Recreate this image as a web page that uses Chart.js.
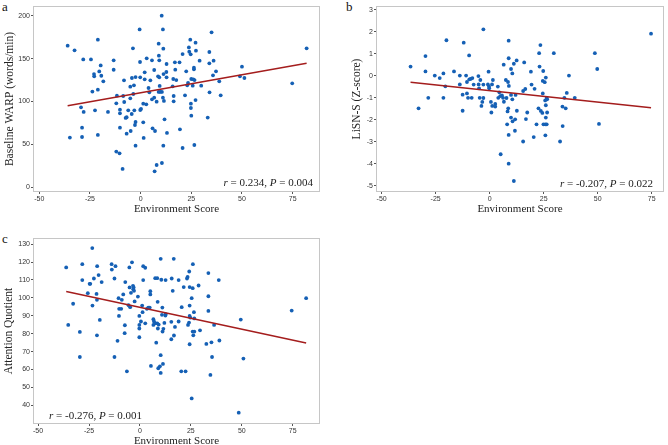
<!DOCTYPE html>
<html>
<head>
<meta charset="utf-8">
<script src="https://cdn.jsdelivr.net/npm/chart.js@4.4.1/dist/chart.umd.min.js"></script>
<style>
  html, body { margin: 0; padding: 0; background: #fff; }
  body { width: 668px; height: 445px; overflow: hidden; position: relative; }
  .panel { position: absolute; }
  .tag { position: absolute; font-family: "Liberation Serif", serif; font-size: 13px; line-height: 13px; color: #111; }
</style>
</head>
<body>
<div class="tag" style="left:2px; top:0px;">a</div>
<div class="tag" style="left:346px; top:0px;">b</div>
<div class="tag" style="left:2px; top:232px;">c</div>

<div class="panel" style="left:0; top:0; width:330px; height:222px;"><canvas id="chartA"></canvas></div>
<div class="panel" style="left:340px; top:0; width:328px; height:222px;"><canvas id="chartB"></canvas></div>
<div class="panel" style="left:0; top:225px; width:330px; height:229px;"><canvas id="chartC"></canvas></div>

<script>
// Shared x axis ticks
const xTicks = [-50, -25, 0, 25, 50, 75];

// Panel a - Baseline WARP vs Environment Score
const envA = [
  -36.0, -34.9, -32.6, -28.9, -28.9, -28.3, -28.1, -29.4, -24.5, -23.8,
  -23.0, -22.9, -22.5, -21.1, -21.1, -21.1, -20.4, -19.7, -19.4, -18.4,
  -16.1, -13.3, -13.3, -12.0, -11.7, -12.0, -10.4, -10.2, -10.2, -10.2,
  -8.9, -8.6, -8.2, -8.1, -7.4, -6.9, -6.9, -6.1, -5.1, -5.1,
  -4.9, -4.4, -4.3, -3.8, -3.6, -3.3, -3.1, -2.8, -2.5, -2.5,
  -2.5, -0.5, -0.3, -0.2, -0.2, 0.2, 1.3, 1.3, 1.5, 2.0,
  2.0, 3.0, 2.8, 3.9, 4.3, 4.8, 5.6, 5.6, 5.9, 6.7,
  6.7, 7.1, 6.9, 7.9, 7.9, 8.6, 8.9, 8.9, 9.0, 9.2,
  9.4, 9.2, 9.7, 10.4, 10.5, 10.5, 11.0, 11.2, 11.0, 11.2,
  11.3, 11.5, 11.8, 12.7, 12.8, 12.8, 13.0, 15.8, 16.1, 16.3,
  16.3, 16.9, 17.1, 17.6, 19.2, 19.4, 20.7, 20.7, 21.9, 22.5,
  23.0, 23.4, 23.8, 24.0, 24.5, 24.7, 25.0, 24.8, 24.8, 25.0,
  25.7, 26.0, 26.3, 26.3, 26.5, 26.6, 27.1, 27.3, 27.1, 29.1,
  29.9, 33.1, 33.9, 33.9, 34.0, 35.0, 35.7, 36.0, 37.2, 38.8,
  39.5, 50.0, 49.0, 51.2, 74.8, 81.9
];
const warp = [
  165, 57.9, 159.6, 69.5, 58.6, 149, 87.8, 93.2, 149, 111.5,
  132, 129.3, 89.7, 172, 113.8, 61, 135, 142, 130, 123.5,
  87.8, 148, 137, 41.6, 106.8, 97.9, 39.6, 90.5, 86.2, 69.5,
  21.4, 106.4, 124.7, 99.4, 80.8, 81.6, 62.5, 89.7, 117.3, 103.7,
  65.6, 85.4, 127.4, 162, 108.7, 118.8, 89.7, 72.6, 76.1, 48.5,
  128.5, 184, 146, 128.2, 90.1, 91.3, 97.5, 75.7, 57.5, 125.8,
  134, 150.3, 96.7, 115.7, 110.7, 124.7, 148, 102.5, 68.7, 136.7,
  104.5, 65.6, 18.6, 99.8, 26, 129.3, 111.1, 167.4, 153.4, 148,
  118.1, 128.2, 111.1, 200, 111.1, 28.3, 184, 161.6, 104.5, 48.5,
  132, 100.6, 79.2, 134.4, 143.7, 128.2, 63.3, 117.7, 126.2, 106.4,
  100.2, 145.6, 137.1, 125, 145.6, 67.6, 155.3, 45.8, 107.2, 135.1,
  118.8, 121.6, 163, 158, 172, 155, 126.2, 97.5, 92.4, 83.5,
  118.4, 125.8, 139.4, 137.5, 49.3, 125, 168.5, 159.2, 101.7, 147.6,
  118.4, 81.2, 157.7, 144.5, 110.7, 180.6, 130.5, 147.6, 135.1, 123.5,
  107.2, 140.6, 129.3, 127.4, 121.2, 162
];
const warpTicks = [0, 50, 100, 150, 200];
const fitA = { intercept: 110.2, slope: 0.419, r: '0.234', p: '0.004' };

// Panel b - LiSN-S vs Environment Score
const envB = [
  -36.6, -32.9, -29.7, -29.7, -28.4, -25.4, -23.1, -21.4, -21.4, -20.5,
  -20.0, -16.5, -13.8, -13.8, -12.5, -12.5, -12.0, -10.9, -10.5, -10.5,
  -10.0, -9.5, -9.4, -8.8, -8.3, -8.0, -7.4, -5.2, -5.1, -4.9,
  -4.6, -4.3, -3.8, -3.4, -2.9, -2.9, -2.9, -0.8, -0.5, -0.3,
  -0.2, 0.6, 0.8, 1.1, 1.2, 1.5, 2.6, 2.6, 3.8, 4.0,
  4.5, 4.9, 5.1, 5.7, 6.2, 6.5, 6.6, 7.5, 7.8, 8.1,
  8.3, 8.5, 8.6, 8.8, 8.8, 8.8, 8.8, 8.9, 9.9, 9.9,
  9.9, 10.5, 10.5, 10.6, 11.2, 11.2, 11.7, 11.8, 12.0, 12.5,
  12.6, 15.5, 15.5, 16.0, 16.5, 16.8, 17.4, 19.1, 19.4, 20.4,
  20.8, 21.7, 22.6, 22.9, 23.1, 23.5, 23.7, 24.4, 24.6, 24.6,
  24.8, 24.9, 25.5, 25.7, 25.8, 25.8, 26.0, 26.0, 26.0, 26.4,
  26.4, 26.6, 26.6, 29.7, 32.6, 33.7, 33.8, 34.6, 35.2, 35.7,
  36.7, 39.4, 48.7, 49.8, 50.6, 74.7
];
const lisn = [
  0.42, -1.48, 0.90, 0.20, -1.00, 0.01, -0.10, 0.11, -1.00, -0.48,
  1.62, 0.20, 0.01, -0.39, -0.86, -1.59, 1.51, 0.01, -0.28, -0.80,
  -1.00, 0.93, -0.16, -0.14, -1.00, -0.10, -0.40, -0.01, -0.39, -0.57,
  -1.00, -0.19, -1.37, -1.19, 2.12, -1.01, -0.40, -0.39, 0.19, -0.49,
  -0.57, -1.19, -1.67, -0.39, -1.37, -0.19, -1.28, -1.40, -0.49, -1.00,
  -0.75, -0.92, -3.57, -0.89, -1.00, 0.51, -1.18, -0.19, -1.01, -2.21,
  -1.62, -0.28, -1.48, 1.60, 0.80, -4.00, -2.69, -0.46, 0.31, -1.90,
  -0.87, 0.11, -1.07, -2.07, 0.55, -4.79, -2.50, -1.98, -0.87, 0.70,
  -1.59, -2.99, -0.69, 0.61, -0.60, -1.97, -1.67, 0.19, -0.40, -2.79,
  -0.59, -2.21, -1.48, 1.03, 0.42, 1.40, -1.60, -1.69, -0.23, -0.80,
  0.22, -2.21, -0.29, -1.12, -2.21, -2.71, -0.08, -1.34, -1.90, -1.00,
  -2.21, -1.07, -1.67, 1.03, -2.99, -1.40, -2.29, -1.00, -1.48, -0.78,
  0.01, -1.00, 1.03, 0.31, -2.19, 1.92
];
const lisnTicks = [-5, -4, -3, -2, -1, 0, 1, 2, 3];
const fitB = { intercept: -0.671, slope: -0.01042, r: '-0.207', p: '0.022' };

// Panel c - Attention Quotient vs Environment Score
const envC = [
  -36.2, -35.2, -32.8, -29.5, -29.5, -28.3, -28.3, -25.6, -24.7, -24.4,
  -23.4, -23.3, -22.6, -21.3, -21.1, -21.1, -21.0, -20.3, -19.7, -18.8,
  -13.9, -13.8, -12.5, -12.5, -12.0, -11.0, -10.5, -10.3, -10.2, -9.2,
  -8.9, -8.2, -7.5, -7.4, -7.2, -6.4, -5.6, -5.2, -5.1, -4.8,
  -4.4, -3.9, -3.4, -3.3, -3.1, -2.9, -2.6, -1.0, -0.3, -0.3,
  -0.3, -0.3, 0.5, 1.1, 1.3, 1.6, 1.6, 2.6, 2.6, 3.4,
  4.1, 4.8, 5.1, 5.1, 5.4, 6.6, 6.6, 6.9, 7.5, 7.7,
  8.0, 8.5, 8.5, 8.7, 8.8, 9.0, 9.2, 9.8, 10.2, 10.2,
  10.2, 10.5, 10.8, 11.0, 11.1, 11.3, 11.5, 12.0, 12.5, 12.6,
  12.6, 15.4, 15.4, 15.6, 16.1, 16.6, 16.7, 17.2, 19.0, 19.0,
  20.3, 20.5, 21.5, 22.4, 23.1, 23.4, 23.6, 24.1, 24.2, 24.4,
  24.4, 24.4, 24.4, 24.7, 25.4, 25.4, 25.9, 25.9, 26.0, 26.2,
  26.5, 26.7, 26.7, 28.8, 29.5, 32.6, 33.6, 33.6, 33.6, 34.6,
  35.1, 35.4, 36.4, 38.7, 39.0, 48.5, 49.5, 50.8, 74.5, 81.6
];
const attention = [
  117.0, 84.9, 96.7, 81.0, 67.0, 118.8, 109.9, 102.6, 107.8, 107.8,
  127.8, 95.7, 110.8, 102.2, 98.9, 79.1, 117.7, 112.7, 87.7, 108.8,
  118.8, 115.8, 110.8, 67.0, 117.7, 76.0, 99.8, 89.9, 93.9, 93.9,
  98.9, 101.9, 80.3, 84.7, 108.8, 59.0, 95.9, 117.0, 105.8, 94.8,
  102.8, 119.8, 106.7, 104.8, 105.8, 103.9, 98.0, 100.7, 89.9, 84.9,
  82.9, 78.0, 86.8, 95.7, 92.0, 109.9, 117.7, 116.8, 85.8, 93.9,
  94.6, 94.6, 103.7, 101.9, 62.0, 88.1, 84.9, 86.8, 111.0, 85.8,
  75.0, 111.0, 85.8, 97.8, 82.9, 60.7, 85.1, 61.8, 121.8, 68.0,
  58.1, 110.1, 90.5, 94.6, 81.2, 63.1, 82.7, 86.0, 90.1, 109.9,
  90.9, 86.6, 76.9, 110.8, 103.9, 121.8, 79.0, 83.8, 109.9, 86.8,
  59.0, 94.8, 106.0, 59.0, 110.8, 111.7, 84.9, 86.2, 114.7, 95.7,
  106.0, 89.9, 74.1, 89.0, 43.9, 99.8, 105.4, 81.2, 118.8, 79.1,
  92.0, 81.2, 88.5, 106.9, 81.9, 74.3, 113.8, 100.9, 92.7, 57.0,
  75.2, 67.0, 84.9, 109.9, 76.2, 35.9, 87.9, 66.1, 92.9, 99.8
];
const attentionTicks = [40, 50, 60, 70, 80, 90, 100, 110, 120, 130];
const fitC = { intercept: 94.68, slope: -0.2436, r: '-0.276', p: '0.001' };

const DOT = '#1560b5';
const FIT_LINE = '#a41d1d';
const TICK_FONT = { family: 'Liberation Sans', size: 7 };
const X_TITLE_FONT = { family: 'Liberation Serif', size: 11 };
const Y_TITLE_FONT = { family: 'Liberation Serif', size: 11.5 };

// draws the grey frame and the r / P text
const framePlugin = {
  id: 'frame',
  afterDraw(chart, args, opts) {
    const { ctx, chartArea: a } = chart;
    ctx.save();
    ctx.strokeStyle = '#c6c6c6';
    ctx.lineWidth = 1;
    ctx.strokeRect(a.left + 0.5, a.top + 0.5, a.right - a.left - 1, a.bottom - a.top - 1);

    const parts = [
      ['r', 'italic'], [' = ' + opts.r + ', ', 'normal'],
      ['P', 'italic'], [' = ' + opts.p, 'normal']
    ];
    const fontFor = style => style + ' 11px "Liberation Serif"';
    let total = 0;
    parts.forEach(([t, s]) => { ctx.font = fontFor(s); total += ctx.measureText(t).width; });
    let x = opts.align === 'left' ? a.left + opts.dx : a.right - opts.dx - total;
    const y = a.bottom - opts.dy;
    ctx.fillStyle = '#222';
    ctx.textBaseline = 'alphabetic';
    parts.forEach(([t, s]) => {
      ctx.font = fontFor(s);
      ctx.fillText(t, x, y);
      x += ctx.measureText(t).width;
    });
    ctx.restore();
  }
};

function makePanel(id, xs, ys, fit, cfg) {
  const points = xs.map((x, i) => ({ x: x, y: ys[i] }));
  const xMin = Math.min(...xs), xMax = Math.max(...xs);
  const fitLine = [
    { x: xMin, y: fit.intercept + fit.slope * xMin },
    { x: xMax, y: fit.intercept + fit.slope * xMax }
  ];

  return new Chart(document.getElementById(id), {
    type: 'scatter',
    data: {
      datasets: [
        {
          type: 'line',
          data: fitLine,
          borderColor: FIT_LINE,
          borderWidth: 1.5,
          pointRadius: 0,
          fill: false,
          order: 0
        },
        {
          data: points,
          backgroundColor: DOT,
          borderWidth: 0,
          pointRadius: 1.9,
          order: 1
        }
      ]
    },
    options: {
      responsive: true,
      maintainAspectRatio: false,
      animation: false,
      layout: { padding: cfg.padding },
      plugins: {
        legend: { display: false },
        tooltip: { enabled: false },
        frame: { r: fit.r, p: fit.p, align: cfg.statAlign, dx: cfg.statDx, dy: cfg.statDy }
      },
      scales: {
        x: {
          type: 'linear',
          min: cfg.xMin,
          max: cfg.xMax,
          afterBuildTicks: s => { s.ticks = xTicks.map(v => ({ value: v })); },
          afterFit: s => { s.height = 30; },
          grid: { drawOnChartArea: false, tickLength: 2, tickColor: '#555' },
          border: { display: false },
          ticks: { font: TICK_FONT, color: '#333', padding: 1, maxRotation: 0 },
          title: {
            display: true,
            text: 'Environment Score',
            font: X_TITLE_FONT,
            color: '#222',
            padding: { top: 0, bottom: 6 }
          }
        },
        y: {
          type: 'linear',
          min: cfg.yMin,
          max: cfg.yMax,
          afterBuildTicks: s => { s.ticks = cfg.yTicks.map(v => ({ value: v })); },
          afterFit: s => { s.width = cfg.yWidth; },
          grid: { drawOnChartArea: false, tickLength: 2, tickColor: '#555' },
          border: { display: false },
          ticks: { font: TICK_FONT, color: '#333', padding: 1 },
          title: {
            display: true,
            text: cfg.yTitle,
            font: Y_TITLE_FONT,
            color: '#222',
            padding: { top: cfg.yTitlePad, bottom: 0 }
          }
        }
      }
    },
    plugins: [framePlugin]
  });
}

makePanel('chartA', envA, warp, fitA, {
  padding: { left: 0, right: 10, top: 6, bottom: 0 },
  xMin: -53.1, xMax: 88.5, yMin: -5.5, yMax: 211.3,
  yTicks: warpTicks, yWidth: 33, yTitle: 'Baseline WARP (words/min)', yTitlePad: 3,
  statAlign: 'right', statDx: 7, statDy: 6
});

makePanel('chartB', envB, lisn, fitB, {
  padding: { left: 0, right: 3, top: 6, bottom: 0 },
  xMin: -52.6, xMax: 80.7, yMin: -5.29, yMax: 3.18,
  yTicks: lisnTicks, yWidth: 36, yTitle: 'LiSN-S (Z-score)', yTitlePad: 10,
  statAlign: 'right', statDx: 11, statDy: 5
});

makePanel('chartC', envC, attention, fitC, {
  padding: { left: 0, right: 10, top: 13, bottom: 0 },
  xMin: -52.5, xMax: 88.4, yMin: 29.6, yMax: 133.4,
  yTicks: attentionTicks, yWidth: 33, yTitle: 'Attention Quotient', yTitlePad: 2.5,
  statAlign: 'left', statDx: 16, statDy: 5
});
</script>
</body>
</html>
